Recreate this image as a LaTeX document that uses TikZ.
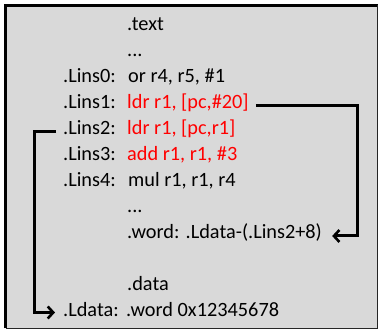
\documentclass[tikz,border=0pt]{standalone}
\usepackage{fontspec}
\setmainfont{Carlito}
\usetikzlibrary{arrows.meta}
\definecolor{codered}{RGB}{255,0,0}
\definecolor{panel}{RGB}{217,217,217}
\begin{document}
\begin{tikzpicture}[x=1pt,y=-1pt,
  txt/.style={anchor=base west,inner sep=0pt,font=\fontsize{20.3}{24}\selectfont},
  hot/.style={txt,text=codered},
  link/.style={line width=3pt,-{Straight Barb[length=5.5pt,width=12pt,line width=2.6pt]}}]
\useasboundingbox (0,0) rectangle (378,331);

% panel with heavy top/left frame and thin bottom/right frame
\fill[panel] (5.5,5.5) rectangle (378,328.5);
\draw[line width=3pt] (5.5,328.5) -- (5.5,5.5) -- (378,5.5);
\draw[line width=1.2pt,black!85] (5.5,328.5) -- (377.4,328.5) -- (377.4,5.5);

% listing
\node[txt] (sectext) at (127,31) {.text};
\node[txt] (dotsa) at (127,57) {...};
\node[txt] (l0lab) at (63,83) {.Lins0:};
\node[txt] (l0code) at (128,83) {or r4, r5, \#1};
\node[txt] (l1lab) at (63,109) {.Lins1:};
\node[hot] (l1code) at (127,109) {ldr r1, [pc,\#20]};
\node[txt] (l2lab) at (63,135) {.Lins2:};
\node[hot] (l2code) at (127,135) {ldr r1, [pc,r1]};
\node[txt] (l3lab) at (63,161) {.Lins3:};
\node[hot] (l3code) at (127,161) {add r1, r1, \#3};
\node[txt] (l4lab) at (63,187) {.Lins4:};
\node[txt] (l4code) at (128,187) {mul r1, r1, r4};
\node[txt] (dotsb) at (127,213) {...};
\node[txt] (word) at (127,239) {.word: .Ldata-(.Lins2+8)};
\node[txt] (secdata) at (127,291) {.data};
\node[txt] (ldlab) at (63,317) {.Ldata:};
\node[txt] (ldcode) at (126,317) {.word 0x12345678};

% pc-relative references
\coordinate (rx) at (357,0);
\coordinate (lx) at (34,0);
\coordinate (r1) at ([xshift=7pt,yshift=3pt]l1code.base east);
\coordinate (r2) at ([xshift=10pt,yshift=3pt]word.base east);
\draw[link] (r1) -- (r1 -| rx) |- (r2);
\coordinate (q1) at ([xshift=-7pt,yshift=3.5pt]l2lab.base west);
\coordinate (q2) at ([xshift=-8pt,yshift=4.5pt]ldlab.base west);
\draw[link] (q1) -- (q1 -| lx) |- (q2);
\end{tikzpicture}
\end{document}
